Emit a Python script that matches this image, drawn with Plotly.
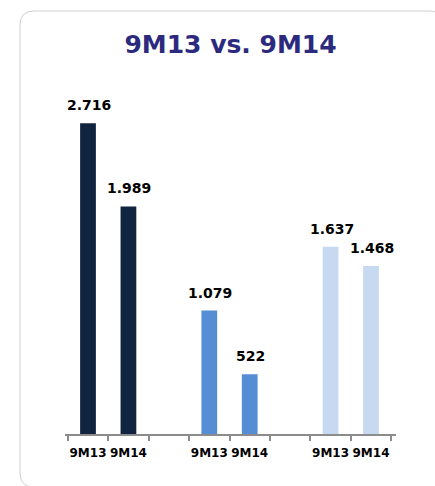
import plotly.graph_objects as go

# ---- data ----
groups = ["A", "B", "C"]
periods = ["9M13", "9M14"]
values_a = [2716, 1989]
values_b = [1079, 522]
values_c = [1637, 1468]
group_colors = ["#11243F", "#558ED5", "#C6D9F1"]

# ---- build category slots (a blank slot between groups) ----
xs, ys, cols, ticktext = [], [], [], []
all_vals = [values_a, values_b, values_c]
for gi, (g, vals) in enumerate(zip(groups, all_vals)):
    for p, v in zip(periods, vals):
        xs.append(f"{g}_{p}")
        ys.append(v)
        cols.append(group_colors[gi])
        ticktext.append(p)
    if gi < len(groups) - 1:
        xs.append(f"gap{gi}")
        ys.append(None)
        cols.append("rgba(0,0,0,0)")
        ticktext.append("")

fig = go.Figure()
fig.add_trace(go.Bar(x=xs, y=ys, marker=dict(color=cols, line=dict(width=0)),
                     width=0.39, hoverinfo="skip"))

for x, y in zip(xs, ys):
    if y is None:
        continue
    fig.add_annotation(x=x, y=y, text=f"{y:,}".replace(",", "."),
                       showarrow=False, yanchor="bottom", yshift=8, xshift=1,
                       font=dict(family="DejaVu Sans", size=14, color="#000000", weight="bold"))

# ---- panel border (rounded rectangle) ----
L, T, PW, PH = 65, 80, 331, 354
def px(x):
    return (x - L) / PW
def py(y):
    return (T + PH - y) / PH
x0, y0, y1, r = 20, 11, 487, 14
x1, r2 = 452, 24
path = (f"M {px(x0+r)},{py(y0)} L {px(x1-r2)},{py(y0)} Q {px(x1)},{py(y0)} {px(x1)},{py(y0+r2)} "
        f"L {px(x1)},{py(y1-r)} Q {px(x1)},{py(y1)} {px(x1-r)},{py(y1)} "
        f"L {px(x0+r)},{py(y1)} Q {px(x0)},{py(y1)} {px(x0)},{py(y1-r)} "
        f"L {px(x0)},{py(y0+r)} Q {px(x0)},{py(y0)} {px(x0+r)},{py(y0)} Z")
fig.add_shape(type="path", path=path, xref="paper", yref="paper",
              line=dict(color="#CFCFCF", width=1), layer="below")

fig.update_layout(
    width=435, height=486,
    margin=dict(l=L, r=435 - L - PW, t=T, b=486 - T - PH),
    paper_bgcolor="white", plot_bgcolor="white",
    showlegend=False,
    title=dict(text="<b>9M13 vs. 9M14</b>", x=0.5, xref="paper", xanchor="center",
               y=1 - 44 / 486, yref="container", yanchor="middle",
               font=dict(family="DejaVu Sans", size=25, color="#2B2A7E")),
    xaxis=dict(type="category", tickmode="array", tickvals=xs, ticktext=ticktext,
               tickson="boundaries", ticks="outside", ticklen=5, tickwidth=2, tickangle=0,
               ticklabelstandoff=7,
               tickcolor="#8C8C8C", showline=True, linecolor="#8C8C8C", linewidth=2,
               showgrid=False, zeroline=False,
               tickfont=dict(family="DejaVu Sans", size=12, color="#000000", weight="bold")),
    yaxis=dict(range=[0, PH / 0.1144], visible=False, showgrid=False, zeroline=False),
)

fig.write_html("out.html", config={"displayModeBar": False},
               post_script="document.body.style.margin='0';document.body.style.overflow='hidden';")
